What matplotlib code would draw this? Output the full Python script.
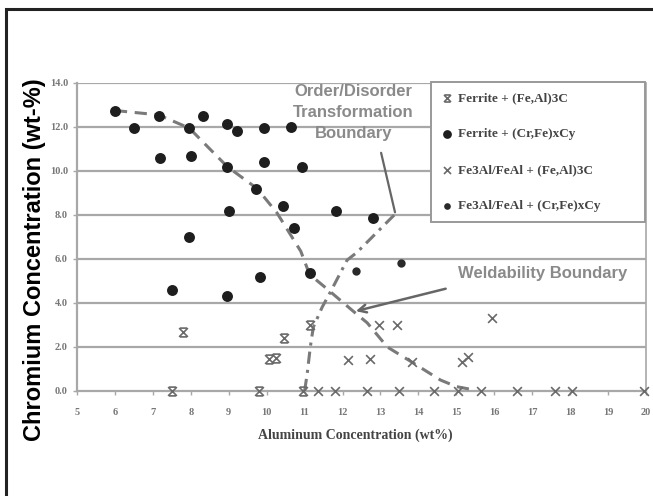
import matplotlib
matplotlib.use("Agg")
import matplotlib.pyplot as plt
from matplotlib.path import Path
from matplotlib.patches import Rectangle

# Ferrite + (Fe,Al)3C
fer_fe_x = [7.8, 10.05, 10.25, 10.45, 11.13, 7.5, 9.8, 10.95]
fer_fe_y = [2.7, 1.45, 1.5, 2.4, 3.0, 0.0, 0.0, 0.0]

# Ferrite + (Cr,Fe)xCy
fer_cr_x = [6.0, 6.5, 7.15, 7.2, 7.95, 8.0, 8.33, 7.95, 8.95, 9.23, 8.95, 9.0,
            9.73, 9.94, 9.94, 10.43, 10.65, 10.73, 10.94, 11.83, 12.8,
            7.5, 8.95, 9.83, 11.13]
fer_cr_y = [12.75, 11.95, 12.5, 10.6, 11.95, 10.7, 12.5, 7.0, 12.15, 11.8, 10.2, 8.2,
            9.2, 11.95, 10.4, 8.4, 12.0, 7.4, 10.2, 8.2, 7.85,
            4.6, 4.3, 5.2, 5.35]

# Fe3Al/FeAl + (Fe,Al)3C
feal_fe_x = [12.15, 12.73, 12.95, 13.44, 13.83, 15.15, 15.3, 15.95,
             11.35, 11.8, 12.65, 13.5, 14.4, 15.05, 15.65, 16.6, 17.6, 18.05, 19.95]
feal_fe_y = [1.4, 1.45, 3.0, 3.0, 1.3, 1.3, 1.55, 3.3,
             0, 0, 0, 0, 0, 0, 0, 0, 0, 0, 0]

# Fe3Al/FeAl + (Cr,Fe)xCy
feal_cr_x = [12.36, 13.55]
feal_cr_y = [5.45, 5.8]

# boundaries
weld_x = [6.0, 7.15, 7.96, 8.96, 9.75, 10.27, 10.9, 11.13, 11.55, 12.3, 12.65,
          13.18, 13.84, 14.58, 15.0, 15.37]
weld_y = [12.75, 12.55, 11.95, 10.2, 9.2, 8.1, 6.35, 5.3, 4.7, 3.6, 3.1,
          2.0, 1.3, 0.5, 0.2, 0.08]
order_x = [11.0, 11.07, 11.15, 11.23, 11.46, 11.68, 12.12, 12.38, 12.9, 13.42]
order_y = [0.0, 0.8, 2.0, 2.9, 3.8, 4.5, 5.95, 6.3, 7.2, 8.1]

legend_labels = ["Ferrite + (Fe,Al)3C", "Ferrite + (Cr,Fe)xCy",
                 "Fe3Al/FeAl + (Fe,Al)3C", "Fe3Al/FeAl + (Cr,Fe)xCy"]

gray = "#a8a8a8"
mark = "#6a6a6a"

bowtie = Path([(-1, -1), (1, 1), (-1, 1), (1, -1),
               (-0.8, 1), (0.8, 1), (-0.8, -1), (0.8, -1)],
              [Path.MOVETO, Path.LINETO, Path.MOVETO, Path.LINETO,
               Path.MOVETO, Path.LINETO, Path.MOVETO, Path.LINETO])

fig = plt.figure(figsize=(6.53, 4.96), dpi=100)
ax = fig.add_axes([77 / 653, 1 - 391 / 496, 569 / 653, 308 / 496])

ax.set_xlim(5, 20)
ax.set_ylim(0, 14)
ax.set_xticks(range(5, 21))
ax.set_yticks([0, 2, 4, 6, 8, 10, 12, 14])
ax.set_yticklabels(["%.1f" % v for v in [0, 2, 4, 6, 8, 10, 12, 14]])
for y in [2, 4, 6, 8, 10, 12, 14]:
    ax.axhline(y, color=gray, lw=1.6, zorder=1)
ax.spines["top"].set_visible(False)
ax.spines["bottom"].set_color(gray)
ax.spines["bottom"].set_linewidth(1.6)
ax.spines["left"].set_color(gray)
ax.spines["left"].set_linewidth(1.6)
ax.spines["right"].set_color(gray)
ax.spines["right"].set_linewidth(1.2)
ax.tick_params(axis="both", colors=gray, length=3, width=1,
               labelcolor="#777777", labelsize=7.5)
ax.tick_params(axis="x", pad=9)
for lbl in ax.get_xticklabels() + ax.get_yticklabels():
    lbl.set_fontfamily("Liberation Serif")
    lbl.set_fontweight("bold")

ax.plot(weld_x, weld_y, color="#7a7a7a", lw=2.2, ls=(0, (4, 2.5)), zorder=3)
ax.plot(order_x, order_y, color="#7a7a7a", lw=2.2, ls=(0, (4, 2, 1, 2)), zorder=3)

h1 = ax.scatter(fer_fe_x, fer_fe_y, marker=bowtie, s=40, color=mark, lw=1.2,
                zorder=4, clip_on=False)
h2 = ax.scatter(fer_cr_x, fer_cr_y, marker="o", s=62, color="#1e1e1e", lw=0,
                zorder=4)
h3 = ax.scatter(feal_fe_x, feal_fe_y, marker="x", s=40, color=mark, lw=1.2,
                zorder=4, clip_on=False)
h4 = ax.scatter(feal_cr_x, feal_cr_y, marker="o", s=36, color="#2a2a2a", lw=0,
                zorder=4)

ax.annotate("", xy=(13.4, 8.0), xytext=(13.0, 10.95),
            arrowprops=dict(arrowstyle="-", color="#666666", lw=1.6), zorder=5)
ax.annotate("", xy=(12.28, 3.6), xytext=(14.79, 4.68),
            arrowprops=dict(arrowstyle="->", color="#666666", lw=1.8,
                            mutation_scale=14), zorder=5)
ax.text(12.28, 12.68, "Order/Disorder\nTransformation\nBoundary", ha="center",
        va="center", color="#8a8a8a", fontsize=12, fontweight="bold",
        family="Liberation Sans", linespacing=1.5, zorder=5)
ax.text(17.27, 5.32, "Weldability Boundary", ha="center", va="center",
        color="#8a8a8a", fontsize=12, fontweight="bold",
        family="Liberation Sans", zorder=5)

leg = ax.legend([h1, h2, h3, h4], legend_labels, loc="upper left",
                bbox_to_anchor=(431 / 653, 1 - 224 / 496, 214 / 653, 142 / 496),
                bbox_transform=fig.transFigure, mode="expand",
                fancybox=False, framealpha=1, edgecolor="#999999",
                prop={"family": "Liberation Serif", "weight": "bold", "size": 9.5},
                labelspacing=1.8, handletextpad=0.3, handlelength=1.0,
                borderpad=0.75, borderaxespad=0, scatterpoints=1, markerscale=0.8)
leg.get_frame().set_linewidth(1.4)
for t in leg.get_texts():
    t.set_color("#444444")
leg.set_zorder(6)

fig.text(355 / 653, 1 - 435 / 496, "Aluminum Concentration (wt%)", ha="center",
         va="center", fontsize=10, fontweight="bold", family="Liberation Serif",
         color="#444444")
fig.text(35 / 653, 1 - 260 / 496, "Chromium Concentration (wt-%)", ha="center",
         va="center", rotation=90, fontsize=17, fontweight="bold",
         family="Liberation Sans", color="black")

fig.patches.append(Rectangle((6 / 653, -0.1), 1.2, 1 - 9 / 496 + 0.1,
                             transform=fig.transFigure, fill=False,
                             edgecolor="#222222", lw=2.2))

fig.savefig("out.png", dpi=100)
